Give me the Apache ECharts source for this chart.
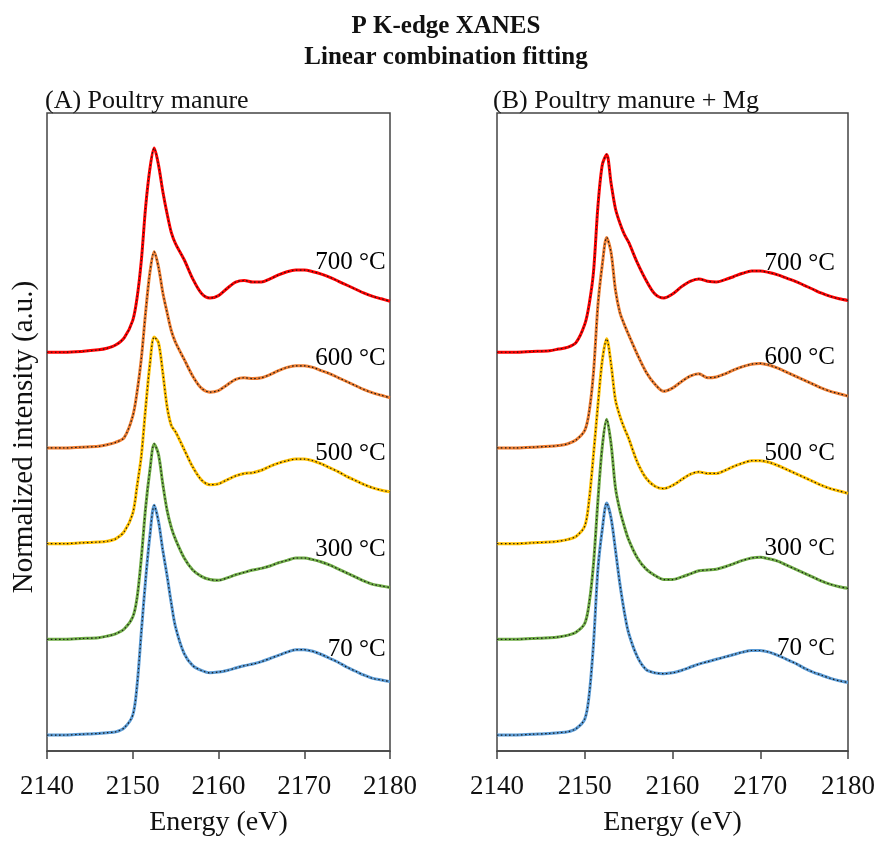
<!DOCTYPE html>
<html>
<head>
    <meta charset="utf-8">
    <title>P K-edge XANES</title>
    <script src="https://cdn.jsdelivr.net/npm/echarts@6/dist/echarts.min.js"></script>
    <style>
        html, body { margin: 0; padding: 0; overflow: hidden; }
        #main { display: block; }
    </style>
</head>
<body>
<div id="main" style="width: 882px;height:842px;"></div>
<script type="text/javascript">
    // energy grid (eV)
    var energy = [2140, 2142, 2144, 2146, 2147, 2148, 2149, 2150, 2150.5, 2151, 2151.5, 2152, 2152.5, 2153, 2153.5,
        2154, 2154.5, 2155, 2156, 2157, 2158, 2159, 2160, 2161, 2162, 2163, 2164, 2165, 2166, 2167, 2168,
        2169, 2170, 2171, 2172, 2173, 2174, 2175, 2176, 2177, 2178, 2179, 2180];

    var temps = ['70 °C', '300 °C', '500 °C', '600 °C', '700 °C'];
    // vertical offset of each spectrum
    var offsets = [0.2, 1.4, 2.6, 3.8, 5.0];

    // (A) Poultry manure - normalized intensity
    var poultry70 = [0.00, 0.00, 0.01, 0.02, 0.03, 0.04, 0.09, 0.25, 0.62, 1.29, 1.95, 2.50, 2.88, 2.68, 2.32,
        2.00, 1.65, 1.35, 1.02, 0.87, 0.81, 0.78, 0.79, 0.81, 0.84, 0.87, 0.89, 0.92, 0.96, 1.00, 1.04,
        1.07, 1.07, 1.05, 1.01, 0.96, 0.91, 0.85, 0.80, 0.75, 0.71, 0.69, 0.67];
    var poultry300 = [0.00, 0.00, 0.01, 0.02, 0.04, 0.07, 0.13, 0.28, 0.52, 1.02, 1.65, 2.12, 2.45, 2.32, 1.95,
        1.62, 1.40, 1.25, 1.02, 0.87, 0.79, 0.75, 0.74, 0.77, 0.81, 0.84, 0.87, 0.89, 0.92, 0.96, 0.99,
        1.02, 1.02, 1.00, 0.97, 0.93, 0.88, 0.83, 0.78, 0.73, 0.69, 0.67, 0.65];
    var poultry500 = [0.00, 0.00, 0.01, 0.02, 0.03, 0.06, 0.15, 0.38, 0.72, 1.10, 1.70, 2.25, 2.59, 2.52, 2.15,
        1.72, 1.48, 1.40, 1.18, 0.96, 0.80, 0.74, 0.75, 0.80, 0.85, 0.88, 0.89, 0.92, 0.97, 1.01, 1.04,
        1.06, 1.06, 1.04, 1.00, 0.95, 0.90, 0.84, 0.79, 0.74, 0.70, 0.67, 0.65];
    var poultry600 = [0.00, 0.00, 0.01, 0.02, 0.04, 0.07, 0.13, 0.40, 0.70, 1.12, 1.70, 2.20, 2.46, 2.27, 1.95,
        1.70, 1.47, 1.32, 1.11, 0.90, 0.75, 0.70, 0.72, 0.79, 0.86, 0.88, 0.87, 0.88, 0.92, 0.97, 1.01,
        1.03, 1.03, 1.01, 0.97, 0.93, 0.88, 0.83, 0.78, 0.73, 0.69, 0.66, 0.63];
    var poultry700 = [0.00, 0.00, 0.01, 0.03, 0.05, 0.09, 0.18, 0.40, 0.68, 1.15, 1.82, 2.30, 2.56, 2.35, 2.02,
        1.74, 1.50, 1.36, 1.16, 0.92, 0.74, 0.68, 0.71, 0.80, 0.88, 0.90, 0.88, 0.88, 0.92, 0.97, 1.01,
        1.03, 1.03, 1.01, 0.98, 0.94, 0.89, 0.84, 0.79, 0.74, 0.70, 0.67, 0.64];

    // (B) Poultry manure + Mg
    var mg70 = [0.00, 0.00, 0.01, 0.02, 0.03, 0.04, 0.08, 0.20, 0.50, 1.15, 2.08, 2.58, 2.91, 2.72, 2.32,
        1.90, 1.55, 1.28, 0.98, 0.82, 0.78, 0.77, 0.78, 0.81, 0.85, 0.89, 0.92, 0.95, 0.98, 1.01, 1.04,
        1.06, 1.06, 1.04, 1.00, 0.95, 0.90, 0.84, 0.79, 0.75, 0.71, 0.68, 0.66];
    var mg300 = [0.00, 0.00, 0.01, 0.02, 0.03, 0.05, 0.09, 0.20, 0.45, 0.95, 1.74, 2.42, 2.76, 2.45, 1.90,
        1.62, 1.42, 1.25, 1.02, 0.88, 0.80, 0.75, 0.75, 0.78, 0.82, 0.86, 0.87, 0.88, 0.91, 0.95, 0.99,
        1.02, 1.03, 1.01, 0.98, 0.93, 0.88, 0.83, 0.78, 0.73, 0.69, 0.66, 0.64];
    var mg500 = [0.00, 0.00, 0.01, 0.02, 0.03, 0.05, 0.09, 0.22, 0.55, 1.12, 1.74, 2.30, 2.57, 2.25, 1.80,
        1.60, 1.45, 1.32, 1.02, 0.82, 0.72, 0.69, 0.73, 0.80, 0.87, 0.90, 0.88, 0.88, 0.92, 0.97, 1.01,
        1.04, 1.04, 1.02, 0.98, 0.93, 0.88, 0.83, 0.78, 0.73, 0.69, 0.66, 0.63];
    var mg600 = [0.00, 0.00, 0.01, 0.02, 0.03, 0.05, 0.10, 0.22, 0.45, 0.95, 1.79, 2.30, 2.64, 2.45, 1.98,
        1.70, 1.55, 1.42, 1.17, 0.95, 0.80, 0.71, 0.75, 0.83, 0.90, 0.93, 0.88, 0.89, 0.93, 0.98, 1.02,
        1.05, 1.06, 1.04, 1.00, 0.95, 0.90, 0.85, 0.80, 0.75, 0.71, 0.68, 0.65];
    var mg700 = [0.00, 0.00, 0.01, 0.02, 0.04, 0.06, 0.12, 0.35, 0.60, 1.01, 1.83, 2.35, 2.48, 2.12, 1.80,
        1.62, 1.48, 1.38, 1.12, 0.90, 0.73, 0.68, 0.73, 0.82, 0.89, 0.92, 0.89, 0.88, 0.91, 0.95, 0.99,
        1.02, 1.02, 1.00, 0.97, 0.93, 0.89, 0.84, 0.79, 0.74, 0.70, 0.67, 0.65];

    // temperature label positions (energy, intensity)
    var labelXA = 2179.5;
    var labelXB = 2178.5;
    var labelYA = [1.27, 2.53, 3.73, 4.92, 6.12];
    var labelYB = [1.28, 2.54, 3.73, 4.93, 6.11];

    var colors = ['#5b9bd5', '#70ad47', '#ffc000', '#ed7d31', '#ff0000'];
    var font = 'Liberation Serif, Times New Roman, serif';

    var myChart = echarts.init(document.getElementById('main'), null, {renderer: 'canvas'});

    function toPairs(vals, off) {
        var out = [];
        for (var i = 0; i < energy.length; i++) {
            out.push([energy[i], +(vals[i] + off).toFixed(3)]);
        }
        return out;
    }

    function buildSeries(sets, idx, labelX, labelY) {
        var s = [];
        sets.forEach(function (vals, k) {
            var d = toPairs(vals, offsets[k]);
            s.push({
                name: temps[k], type: 'line', xAxisIndex: idx, yAxisIndex: idx,
                data: d, showSymbol: false, smooth: 0.3, z: 2,
                lineStyle: {color: colors[k], width: 3}
            });
            // fitted curve (black dotted)
            s.push({
                name: temps[k] + ' fit', type: 'line', xAxisIndex: idx, yAxisIndex: idx,
                data: d, showSymbol: false, smooth: 0.3, z: 3,
                lineStyle: {color: '#1a1a1a', width: 1.2, type: [1.5, 2.5]}
            });
        });
        // temperature labels
        s.push({
            type: 'scatter', xAxisIndex: idx, yAxisIndex: idx, symbolSize: 0, z: 4, silent: true,
            itemStyle: {opacity: 1},
            data: labelY.map(function (y, k) { return {name: temps[k], value: [labelX, y]}; }),
            label: {
                show: true, position: 'left', distance: 0, formatter: '{b}',
                fontFamily: font, fontSize: 25, color: '#000', opacity: 1
            }
        });
        return s;
    }

    var xAxisBase = {
        type: 'value', min: 2140, max: 2180, interval: 10,
        name: 'Energy (eV)', nameLocation: 'middle', nameGap: 58,
        nameTextStyle: {fontFamily: font, fontSize: 28, color: '#111'},
        axisLine: {show: true, lineStyle: {color: '#444', width: 1.5}},
        axisTick: {show: true, inside: false, length: 8, lineStyle: {color: '#444', width: 1.5}},
        axisLabel: {
            fontFamily: font, fontSize: 27, color: '#111', margin: 22,
            formatter: function (v) { return String(v); }
        },
        splitLine: {show: false}
    };

    var option = {
        animation: false,
        backgroundColor: '#fff',
        title: [
            {
                text: 'P K-edge XANES\nLinear combination fitting',
                left: 441, top: 6, textAlign: 'center',
                textStyle: {fontFamily: font, fontSize: 25, fontWeight: 'bold', lineHeight: 31, color: '#111'}
            },
            {
                text: '(A) Poultry manure', left: 40, top: 83,
                textStyle: {fontFamily: font, fontSize: 26, fontWeight: 'normal', color: '#111'}
            },
            {
                text: '(B) Poultry manure + Mg', left: 488, top: 83,
                textStyle: {fontFamily: font, fontSize: 26, fontWeight: 'normal', color: '#111'}
            }
        ],
        grid: [
            {left: 47, top: 113, width: 343, height: 643, show: true, borderColor: '#444', borderWidth: 1.5},
            {left: 497, top: 113, width: 351, height: 643, show: true, borderColor: '#444', borderWidth: 1.5}
        ],
        xAxis: [
            Object.assign({gridIndex: 0}, xAxisBase),
            Object.assign({gridIndex: 1}, xAxisBase)
        ],
        yAxis: [
            {
                gridIndex: 0, type: 'value', min: 0, max: 8,
                name: 'Normalized intensity (a.u.)', nameLocation: 'middle', nameGap: 8,
                nameTextStyle: {fontFamily: font, fontSize: 29, color: '#111', padding: [0, 10, 0, 0]},
                axisLine: {show: false}, axisTick: {show: false}, axisLabel: {show: false}, splitLine: {show: false}
            },
            {
                gridIndex: 1, type: 'value', min: 0, max: 8,
                axisLine: {show: false}, axisTick: {show: false}, axisLabel: {show: false}, splitLine: {show: false}
            }
        ],
        series: buildSeries([poultry70, poultry300, poultry500, poultry600, poultry700], 0, labelXA, labelYA)
            .concat(buildSeries([mg70, mg300, mg500, mg600, mg700], 1, labelXB, labelYB))
    };

    myChart.setOption(option);
</script>
</body>
</html>
